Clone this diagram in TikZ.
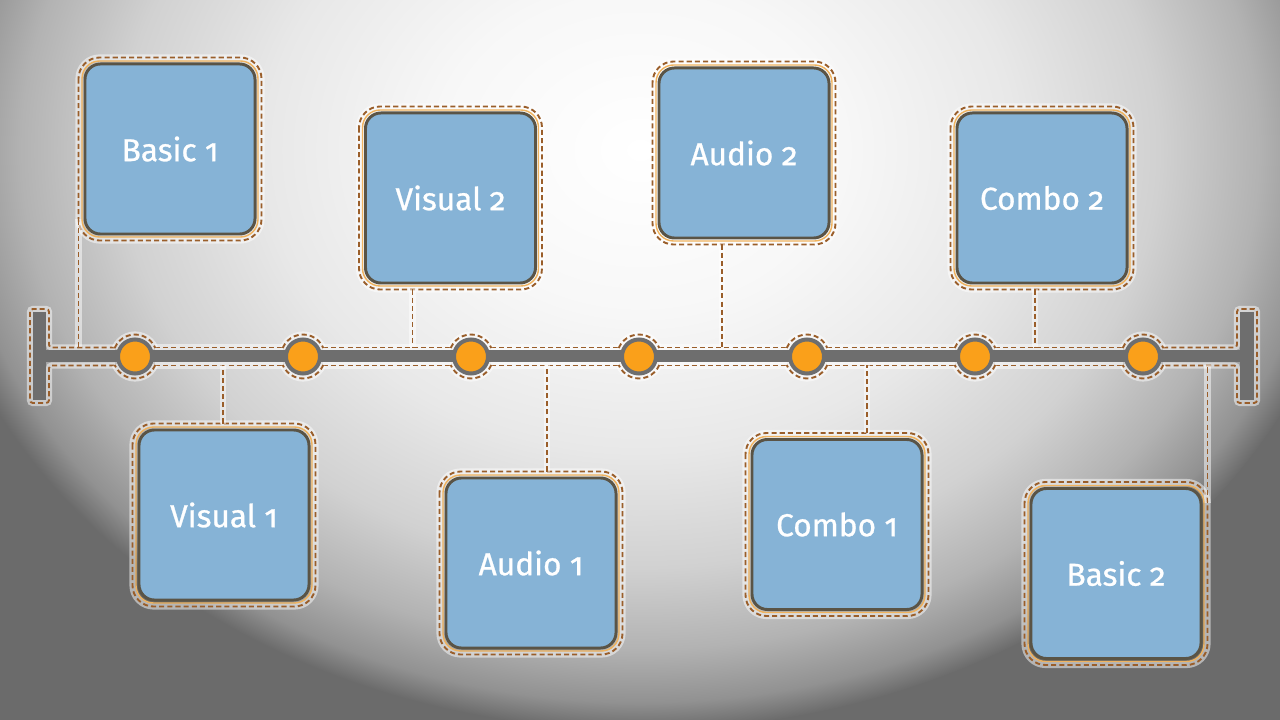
\documentclass[tikz,border=0pt]{standalone}
\usepackage{fontspec}
\setmainfont{Fira Sans}[Numbers=OldStyle]
\usetikzlibrary{calc}
\definecolor{bgdark}{HTML}{6B6B6B}
\definecolor{boxblue}{HTML}{86B3D6}
\definecolor{boxrim}{HTML}{5A5446}
\definecolor{rimorange}{HTML}{F0B35E}
\definecolor{dashbrown}{HTML}{9A5E2A}
\definecolor{bargray}{HTML}{6E6E6E}
\definecolor{dotorange}{HTML}{FAA01A}
\pgfdeclareradialshading{bgshade}{\pgfpoint{0bp}{0bp}}{color(0bp)=(white); color(7bp)=(white!97!black); color(13bp)=(white!91!black); color(18bp)=(white!82!black); color(21.5bp)=(white!70!black); color(23.8bp)=(white!57!black); color(25bp)=(bgdark); color(50bp)=(bgdark)}
\pgfdeclarelayer{back}
\pgfdeclarelayer{bg}
\pgfsetlayers{back,bg,main}
\newcommand{\tlbox}[4]{%
  \node[tlbox] (#1) at (#2,#3) {#4};
  \begin{pgfonlayer}{bg}
    \draw[dashline, rounded corners=15pt] ($(#1.north west)+(-5,-5)$) rectangle ($(#1.south east)+(5,5)$);
  \end{pgfonlayer}
  \draw[rimline] ($(#1.north west)+(-1.5,-1.5)$) rectangle ($(#1.south east)+(1.5,1.5)$);
}
\begin{document}
\begin{tikzpicture}[x=0.025cm,y=-0.025cm,
  tlbox/.style={draw=boxrim, line width=2.1pt, fill=boxblue, rounded corners=11pt,
    minimum width=4.25cm, minimum height=4.25cm, inner sep=0pt,
    text=white, font=\fontsize{22.5}{26}\selectfont\addfontfeature{FakeBold=0.8}},
  rimline/.style={draw=rimorange, line width=1pt, rounded corners=12.5pt},
  dashline/.style={draw=dashbrown, line width=1.35pt, dash pattern=on 3.6pt off 2.2pt,
    preaction={draw=white, draw opacity=0.5, line width=4.4pt, solid}},
  dot/.style={circle, fill=dotorange, draw=bargray, line width=2.85pt, minimum size=0.85cm, inner sep=0pt}
]
\useasboundingbox (0,0) rectangle (1280,720);
\begin{pgfonlayer}{back}
  \begin{scope}
    \clip (0,0) rectangle (1280,720);
    \fill[bgdark] (0,0) rectangle (1280,720);
    \shade[shading=bgshade] (640,150) ellipse [x radius=720, y radius=580];
  \end{scope}
\end{pgfonlayer}

% timeline bar and caps
\fill[bargray] (46,350.5) rectangle (1240,362.5);
\fill[bargray] (33,312) rectangle (46,400);
\fill[bargray] (1240,312) rectangle (1254,400);
\coordinate (barT) at (0,347.5);
\coordinate (barB) at (0,365.5);

% dots
\foreach \i/\x in {1/135,2/303,3/471,4/639,5/807,6/975,7/1143}{
  \node[dot] (d\i) at (\x,356.5) {};
}

\begin{pgfonlayer}{bg}
  % cap outlines
  \draw[dashline, rounded corners=2pt] (114.9,347.5) -- (49,347.5) -- (49,309) -- (30,309) -- (30,403) -- (49,403) -- (49,365.5) -- (114.9,365.5);
  \draw[dashline, rounded corners=2pt] (1163.1,347.5) -- (1237,347.5) -- (1237,309) -- (1257,309) -- (1257,403) -- (1237,403) -- (1237,365.5) -- (1163.1,365.5);
  % bar outline segments
  \foreach \a/\b in {155.1/282.9, 323.1/450.9, 491.1/618.9, 659.1/786.9, 827.1/954.9, 995.1/1122.9}{
    \draw[dashline] (\a,347.5) -- (\b,347.5);
    \draw[dashline] (\a,365.5) -- (\b,365.5);
  }
  % dot outlines
  \foreach \x in {135,303,471,639,807,975,1143}{
    \draw[dashline] (\x,356.5) ++(202.7:22) arc[start angle=202.7, end angle=337.3, radius=22];
    \draw[dashline] (\x,356.5) ++(22.7:22) arc[start angle=22.7, end angle=157.3, radius=22];
  }
\end{pgfonlayer}

% boxes
\tlbox{b1}{170}{149}{Basic 1}
\tlbox{v2}{450.5}{198}{Visual 2}
\tlbox{a2}{744}{153}{Audio 2}
\tlbox{c2}{1042}{198}{Combo 2}
\tlbox{v1}{224}{515}{Visual 1}
\tlbox{a1}{531}{563}{Audio 1}
\tlbox{c1}{837}{524.5}{Combo 1}
\tlbox{b2}{1116}{573.5}{Basic 2}

% connectors
\coordinate (kb1) at ($(b1.south west)+(-5,-16)$);
\coordinate (kv2) at ($(v2.south)+(-38,5)$);
\coordinate (ka2) at ($(a2.south)+(-22,5)$);
\coordinate (kc2) at ($(c2.south)+(-7,5)$);
\coordinate (kv1) at ($(v1.north)+(-1,-5)$);
\coordinate (ka1) at ($(a1.north)+(16,-5)$);
\coordinate (kc1) at ($(c1.north)+(30,-5)$);
\coordinate (kb2) at ($(b2.north east)+(5,16)$);
\begin{pgfonlayer}{bg}
  \draw[dashline] (kb1) -- (kb1 |- barT);
  \draw[dashline] (kv2) -- (kv2 |- barT);
  \draw[dashline] (ka2) -- (ka2 |- barT);
  \draw[dashline] (kc2) -- (kc2 |- barT);
  \draw[dashline] (kv1) -- (kv1 |- barB);
  \draw[dashline] (ka1) -- (ka1 |- barB);
  \draw[dashline] (kc1) -- (kc1 |- barB);
  \draw[dashline] (kb2) -- (kb2 |- barB);
\end{pgfonlayer}
\end{tikzpicture}
\end{document}
